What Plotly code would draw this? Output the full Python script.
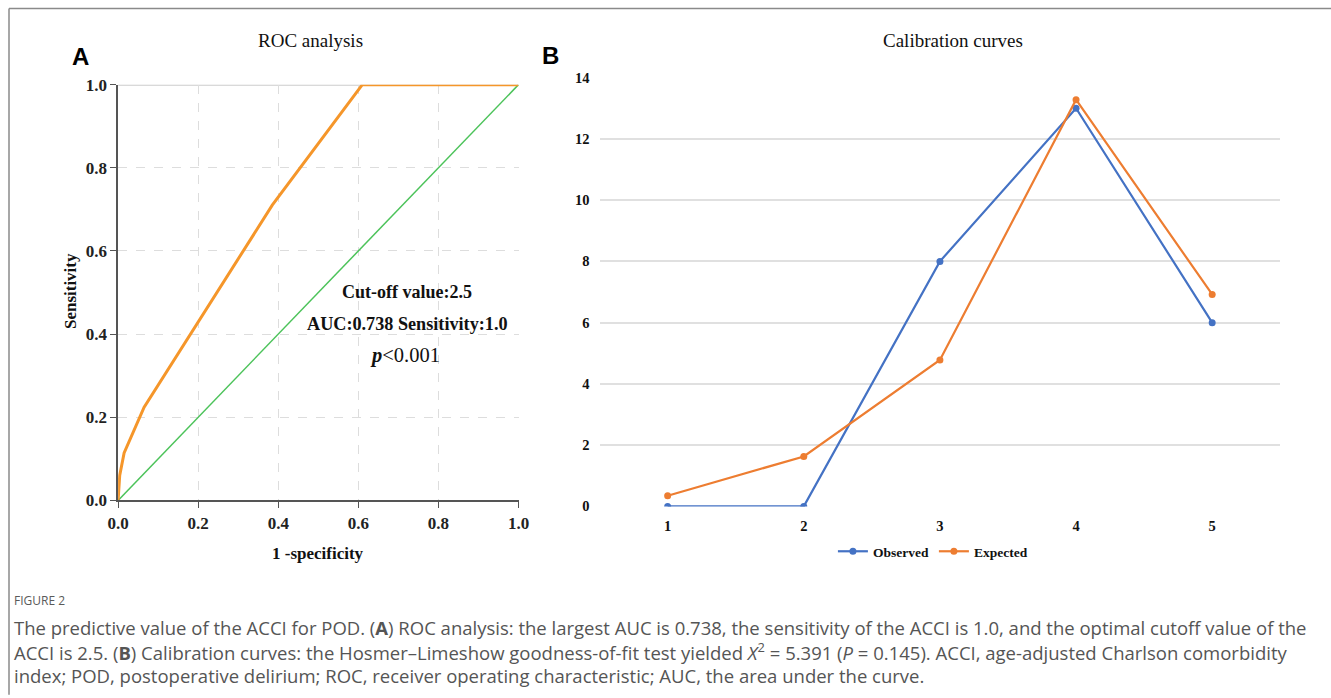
import plotly.graph_objects as go

W, H = 1331, 698

# ROC data (panel A)
roc_fpr = [0.0, 0.004, 0.015, 0.065, 0.385, 0.61, 1.0]
roc_tpr = [0.0, 0.06, 0.114, 0.224, 0.71, 1.0, 1.0]
ref_x = [0.0, 1.0]
ref_y = [0.0, 1.0]
roc_ticks = [0.0, 0.2, 0.4, 0.6, 0.8, 1.0]

# Calibration data (panel B)
groups = [1, 2, 3, 4, 5]
observed = [0, 0, 8, 13, 6]
expected = [0.35, 1.63, 4.78, 13.28, 6.92]
cal_ticks = [0, 2, 4, 6, 8, 10, 12, 14]

# layout helpers (pixel positions -> paper fractions)
def X(x):
    return ((x - 11) / 0.9825) / W

def Y(y):
    return 1 - ((y - 9.5) / 0.971) / H

SERIF = "Liberation Serif, Times New Roman, serif"
ORANGE_ROC = "#F5962A"
GREEN = "#4CC35A"
BLUE = "#4472C4"
ORANGE = "#ED7D31"

fig = go.Figure()

fig.add_trace(go.Scatter(x=ref_x, y=ref_y, mode="lines", line=dict(color=GREEN, width=1.5),
                         xaxis="x", yaxis="y", showlegend=False, hoverinfo="skip"))
fig.add_trace(go.Scatter(x=roc_fpr, y=roc_tpr, mode="lines", line=dict(color=ORANGE_ROC, width=3),
                         xaxis="x", yaxis="y", showlegend=False, cliponaxis=False))

fig.add_trace(go.Scatter(x=groups, y=observed, mode="lines+markers", name="<b>Observed</b>",
                         line=dict(color=BLUE, width=2.2), marker=dict(size=7, color=BLUE),
                         xaxis="x2", yaxis="y2"))
fig.add_trace(go.Scatter(x=groups, y=expected, mode="lines+markers", name="<b>Expected</b>",
                         line=dict(color=ORANGE, width=2.2), marker=dict(size=7, color=ORANGE),
                         xaxis="x2", yaxis="y2"))

tickfontA = dict(family=SERIF, size=17, color="#222")
tickfontB = dict(family=SERIF, size=14.5, color="#111")

fig.update_layout(
    width=W, height=H,
    margin=dict(l=0, r=0, t=0, b=0),
    paper_bgcolor="white", plot_bgcolor="white",
    xaxis=dict(domain=[X(118), X(518)], range=[0, 1], tickvals=roc_ticks,
               ticktext=["<b>%.1f</b>" % v for v in roc_ticks], tickfont=tickfontA,
               showgrid=True, gridcolor="#DDDDDD", griddash="dash", gridwidth=1,
               showline=True, linecolor="#555", linewidth=1.5,
               ticks="outside", ticklen=6, tickcolor="#555", zeroline=False,
               anchor="y", fixedrange=True),
    yaxis=dict(domain=[Y(500), Y(85)], range=[0, 1], tickvals=roc_ticks,
               ticktext=["<b>%.1f</b>" % v for v in roc_ticks], tickfont=tickfontA,
               showgrid=True, gridcolor="#DDDDDD", griddash="dash", gridwidth=1,
               showline=True, linecolor="#555", linewidth=1.5,
               ticks="outside", ticklen=6, tickcolor="#555", zeroline=False,
               anchor="x", fixedrange=True),
    xaxis2=dict(domain=[X(599), X(1279)], range=[0.5, 5.5], tickvals=groups,
                ticktext=["<b>%d</b>" % g for g in groups], tickfont=tickfontB,
                showgrid=False, showline=False, zeroline=False, anchor="y2",
                ticklabelstandoff=9, fixedrange=True),
    yaxis2=dict(domain=[Y(506), Y(78)], range=[0, 14], tickvals=cal_ticks,
                ticktext=["<b>%d</b>" % v for v in cal_ticks], tickfont=tickfontB,
                showgrid=True, gridcolor="#E0E0E0", gridwidth=1.5,
                showline=False, zeroline=False, anchor="x2", ticklabelstandoff=9,
                fixedrange=True),
    legend=dict(orientation="h", x=X(932), y=Y(551), xanchor="center", yanchor="middle",
                font=dict(family=SERIF, size=13.5, color="#111"), itemwidth=30,
                tracegroupgap=0, bgcolor="rgba(0,0,0,0)"),
    showlegend=True,
)

shapes = [
    # frame
    dict(type="line", xref="paper", yref="paper", x0=X(9), x1=1.01, y0=Y(9), y1=Y(9),
         line=dict(color="#8A8A8A", width=1.5)),
    dict(type="line", xref="paper", yref="paper", x0=X(9), x1=X(9), y0=Y(9), y1=-0.01,
         line=dict(color="#8A8A8A", width=1.5)),
    # top line at sensitivity 1.0
    dict(type="line", xref="x", yref="y", x0=0, x1=1, y0=1, y1=1,
         line=dict(color="#CCCCCC", width=2), layer="below"),
]
fig.update_layout(shapes=shapes)

ann = []
def add(text, x, y, size, family=SERIF, color="#111", xanchor="center", yanchor="middle", **kw):
    ann.append(dict(text=text, x=x, y=y, xref="paper", yref="paper", showarrow=False,
                    font=dict(family=family, size=size, color=color),
                    xanchor=xanchor, yanchor=yanchor, **kw))

add("<b>A</b>", X(80), Y(57), 24, family="Liberation Sans, Arial, sans-serif", color="#000")
add("<b>B</b>", X(550), Y(56), 24, family="Liberation Sans, Arial, sans-serif", color="#000")
add("ROC analysis", X(310), Y(41), 19)
add("Calibration curves", X(952), Y(41), 19)
add("<b>Sensitivity</b>", X(70), Y(291), 17, textangle=-90)
add("<b>1 -specificity</b>", X(318), Y(553), 17)
add("<b>Cut-off value:2.5</b>", X(407), Y(292), 18)
add("<b>AUC:0.738 Sensitivity:1.0</b>", X(407), Y(324), 18.2)
add("<i><b>p</b></i>&lt;0.001", X(405), Y(355), 20.5)

CAP = "Open Sans, sans-serif"
add("FIGURE 2", X(12), Y(600), 12, family=CAP, color="#5A5A5A", xanchor="left")
lines = [
    "The predictive value of the ACCI for POD. (<b>A</b>) ROC analysis: the largest AUC is 0.738, the sensitivity of the ACCI is 1.0, and the optimal cutoff value of the",
    "ACCI is 2.5. (<b>B</b>) Calibration curves: the Hosmer\u2013Limeshow goodness-of-fit test yielded <i>X</i><sup>2</sup> = 5.391 (<i>P</i> = 0.145). ACCI, age-adjusted Charlson comorbidity",
    "index; POD, postoperative delirium; ROC, receiver operating characteristic; AUC, the area under the curve.",
]
for i, t in enumerate(lines):
    add(t, X(12), Y(627 + 24 * i), 18.5, family=CAP, color="#555", xanchor="left")

fig.update_layout(annotations=ann)
fig.write_html("out.html", config={"displayModeBar": False},
               post_script="document.body.style.margin='0';document.body.style.padding='0';document.body.style.overflow='hidden';")
